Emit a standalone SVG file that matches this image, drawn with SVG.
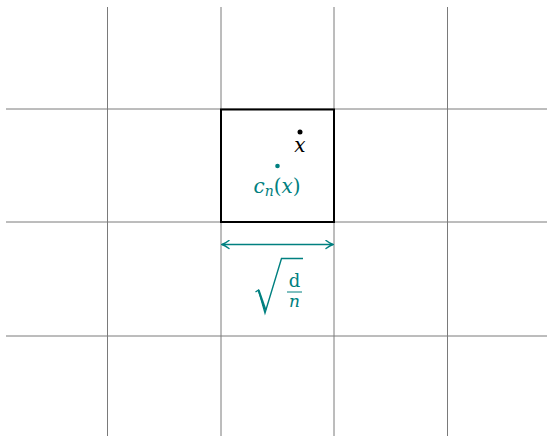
<svg xmlns="http://www.w3.org/2000/svg" width="547" height="436" viewBox="0 0 547 436">
<style>
.grid{stroke:#7a7a7a;stroke-width:1;fill:none}
.teal{fill:#008080}
.tl{stroke:#008080;fill:none;stroke-width:1.6}
text{font-family:'DejaVu Serif',serif}
.m{font-style:italic}
</style>
<defs>
<marker id="ah" viewBox="0 0 10 10" refX="9" refY="5" markerWidth="10" markerHeight="10" markerUnits="userSpaceOnUse" orient="auto-start-reverse">
<path d="M2,1 Q6,4 9,5 Q6,6 2,9" fill="none" stroke="#008080" stroke-width="1.4" stroke-linecap="round"/>
</marker>
</defs>
<rect width="547" height="436" fill="#ffffff"/>
<g id="grid">
<line class="grid" x1="107.5" y1="7" x2="107.5" y2="436"/>
<line class="grid" x1="221" y1="7" x2="221" y2="436"/>
<line class="grid" x1="334" y1="7" x2="334" y2="436"/>
<line class="grid" x1="447.5" y1="7" x2="447.5" y2="436"/>
<line class="grid" x1="6" y1="109" x2="547" y2="109"/>
<line class="grid" x1="6" y1="222" x2="547" y2="222"/>
<line class="grid" x1="6" y1="336" x2="547" y2="336"/>
</g>
<g id="cell">
<rect x="221" y="109.5" width="113" height="112.5" fill="none" stroke="#000" stroke-width="2"/>
</g>
<g id="point-x">
<circle cx="300" cy="132" r="2.5" fill="#000"/>
<text class="m" x="300" y="152" font-size="20" text-anchor="middle" fill="#000">x</text>
</g>
<g id="point-cn">
<circle cx="277.5" cy="166" r="2.3" class="teal"/>
<text x="277" y="193" font-size="20" text-anchor="middle" fill="#008080"><tspan class="m">c</tspan><tspan class="m" font-size="14" dy="3">n</tspan><tspan dy="-3">(</tspan><tspan class="m">x</tspan>)</text>
</g>
<g id="connectors">
<line class="tl" x1="222" y1="244.5" x2="333" y2="244.5" marker-start="url(#ah)" marker-end="url(#ah)"/>
</g>
<g id="label-sqrt">
<path d="M255.5,292 L258.5,290 L265,313 L281.5,258.5 L303,258.5" fill="none" stroke="#008080" stroke-width="1.4" stroke-linejoin="miter"/>
<path d="M258.5,290 L265.5,310" stroke="#008080" stroke-width="2.2" fill="none"/>
<text x="294.5" y="286.5" font-size="18" text-anchor="middle" fill="#008080">d</text>
<line x1="287" y1="292" x2="302" y2="292" stroke="#008080" stroke-width="1"/>
<text class="m" x="294.5" y="306.5" font-size="17" text-anchor="middle" fill="#008080">n</text>
</g>
</svg>
